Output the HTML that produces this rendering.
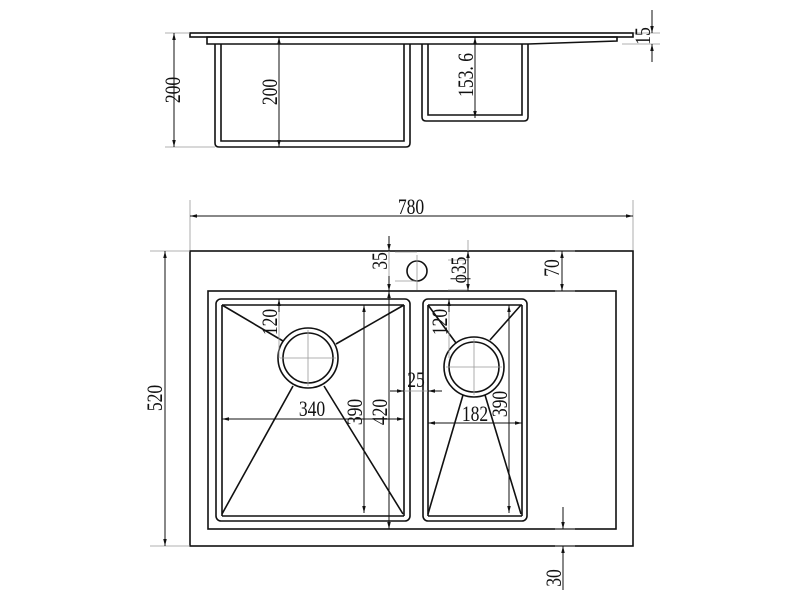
<!DOCTYPE html>
<html><head><meta charset="utf-8"><style>
html,body{margin:0;padding:0;background:#fff;}
svg{display:block;}
text{font-family:"Liberation Serif",serif;font-size:22px;fill:#111;}
</style></head><body>
<svg width="800" height="600" viewBox="0 0 800 600" xmlns="http://www.w3.org/2000/svg">
<defs>
<marker id="a" viewBox="0 0 10 10" refX="10" refY="5" markerWidth="7" markerHeight="7" orient="auto-start-reverse" markerUnits="userSpaceOnUse"><path d="M0,2.5 L10,5 L0,7.5 z" fill="#111"/></marker>
</defs>
<g fill="none" stroke="#111" stroke-width="1.6">
<rect x="190" y="33" width="443" height="4"/>
<path d="M207,37 L617,37 L617,41 L528,44 L207,44 Z"/>
<path d="M215,44 L215,143 Q215,147 219,147 L406,147 Q410,147 410,143 L410,44"/>
<path d="M221,44 L221,141 L404,141 L404,44"/>
<path d="M422,44 L422,117 Q422,121 426,121 L524,121 Q528,121 528,117 L528,44"/>
<path d="M428,44 L428,115 L522,115 L522,44"/>
<rect x="190" y="251" width="443" height="295"/>
<rect x="208" y="291" width="408" height="238"/>
<rect x="216" y="299" width="194" height="222" rx="5"/>
<path d="M222,305 L404,305 M222,305 L222,516 M404,305 L404,516 M222,516 L404,516"/>
<rect x="423" y="299" width="104" height="222" rx="5"/>
<path d="M428,305 L522,305 M428,305 L428,516 M522,305 L522,516 M428,516 L522,516"/>
<circle cx="308" cy="358" r="30"/><circle cx="308" cy="358" r="25"/>
<circle cx="474" cy="367" r="30"/><circle cx="474" cy="367" r="25"/>
<circle cx="417" cy="271" r="10"/>
<path d="M222,305 L283,341 M404,305 L336,344 M293,386 L222,514 M324,386 L403,514"/>
<path d="M428,305 L456,343 M521,305 L490,340 M463,395 L428,514 M485,395 L521,514"/>
</g>
<g stroke="#999" stroke-width="0.8" fill="none">
<path d="M190,200 L190,250 M633,200 L633,250 M150,251 L190,251 M150,546 L190,546"/>
<path d="M165,33 L190,33 M165,147 L215,147 M634,33 L660,33 M622,44 L660,44"/>
<path d="M389,240 L389,291 M468,240 L468,291 M555,251 L575,251 M555,291 L575,291"/>
<path d="M395,252 L417,252 M395,281 L417,281 M417,255 L417,290 M448,260 L468,260 M448,290 L468,290"/>
<path d="M280,358 L336,358 M308,330 L308,386 M446,367 L502,367 M474,339 L474,395"/>
<path d="M389,291 L389,529 M364,305 L364,513 M509,305 L509,513"/>
<path d="M404,391 L440,391 M555,529 L575,529 M555,546 L575,546"/>
<path d="M279,299 L279,358 M449,299 L449,358"/>
</g>
<g stroke="#111" stroke-width="1" fill="none">
<line x1="190" y1="216" x2="633" y2="216" marker-start="url(#a)" marker-end="url(#a)"/>
<line x1="165" y1="251" x2="165" y2="546" marker-start="url(#a)" marker-end="url(#a)"/>
<line x1="174" y1="33" x2="174" y2="147" marker-start="url(#a)" marker-end="url(#a)"/>
<line x1="279" y1="37" x2="279" y2="147" marker-start="url(#a)" marker-end="url(#a)"/>
<line x1="475" y1="37" x2="475" y2="118" marker-start="url(#a)" marker-end="url(#a)"/>
<line x1="652" y1="10" x2="652" y2="33" marker-end="url(#a)"/>
<line x1="652" y1="62" x2="652" y2="44" marker-end="url(#a)"/>
<line x1="389" y1="236" x2="389" y2="251" marker-end="url(#a)"/>
<line x1="389" y1="291" x2="389" y2="276" marker-start="url(#a)"/>
<line x1="468" y1="251" x2="468" y2="291" marker-start="url(#a)" marker-end="url(#a)"/>
<line x1="562" y1="251" x2="562" y2="291" marker-start="url(#a)" marker-end="url(#a)"/>
<line x1="279" y1="299" x2="279" y2="312" marker-start="url(#a)"/>
<line x1="449" y1="299" x2="449" y2="312" marker-start="url(#a)"/>
<line x1="364" y1="305" x2="364" y2="513" marker-start="url(#a)" marker-end="url(#a)"/>
<line x1="389" y1="291" x2="389" y2="529" marker-start="url(#a)" marker-end="url(#a)"/>
<line x1="509" y1="305" x2="509" y2="513" marker-start="url(#a)" marker-end="url(#a)"/>
<line x1="222" y1="419" x2="404" y2="419" marker-start="url(#a)" marker-end="url(#a)"/>
<line x1="428" y1="423" x2="522" y2="423" marker-start="url(#a)" marker-end="url(#a)"/>
<line x1="390" y1="391" x2="404" y2="391" marker-end="url(#a)"/>
<line x1="442" y1="391" x2="428" y2="391" marker-end="url(#a)"/>
<line x1="563" y1="507" x2="563" y2="529" marker-end="url(#a)"/>
<line x1="563" y1="590" x2="563" y2="546" marker-end="url(#a)"/>
</g>
<text transform="translate(411,214) scale(0.8,1)" text-anchor="middle">780</text>
<text transform="translate(162,398) rotate(-90) scale(0.8,1)" text-anchor="middle">520</text>
<text transform="translate(180,90) rotate(-90) scale(0.8,1)" text-anchor="middle">200</text>
<text transform="translate(277,92) rotate(-90) scale(0.8,1)" text-anchor="middle">200</text>
<text transform="translate(473,75) rotate(-90) scale(0.8,1)" text-anchor="middle">153. 6</text>
<text transform="translate(650,36) rotate(-90) scale(0.8,1)" text-anchor="middle">15</text>
<text transform="translate(387,261) rotate(-90) scale(0.8,1)" text-anchor="middle">35</text>
<text transform="translate(466,270) rotate(-90) scale(0.8,1)" text-anchor="middle">ϕ35</text>
<text transform="translate(559,268) rotate(-90) scale(0.8,1)" text-anchor="middle">70</text>
<text transform="translate(277,322) rotate(-90) scale(0.8,1)" text-anchor="middle">120</text>
<text transform="translate(447,322) rotate(-90) scale(0.8,1)" text-anchor="middle">120</text>
<text transform="translate(312,416) scale(0.8,1)" text-anchor="middle">340</text>
<text transform="translate(362,412) rotate(-90) scale(0.8,1)" text-anchor="middle">390</text>
<text transform="translate(387,412) rotate(-90) scale(0.8,1)" text-anchor="middle">420</text>
<text transform="translate(416,387) scale(0.8,1)" text-anchor="middle">25</text>
<text transform="translate(475,421) scale(0.8,1)" text-anchor="middle">182</text>
<text transform="translate(507,404) rotate(-90) scale(0.8,1)" text-anchor="middle">390</text>
<text transform="translate(561,578) rotate(-90) scale(0.8,1)" text-anchor="middle">30</text>
</svg>
</body></html>
